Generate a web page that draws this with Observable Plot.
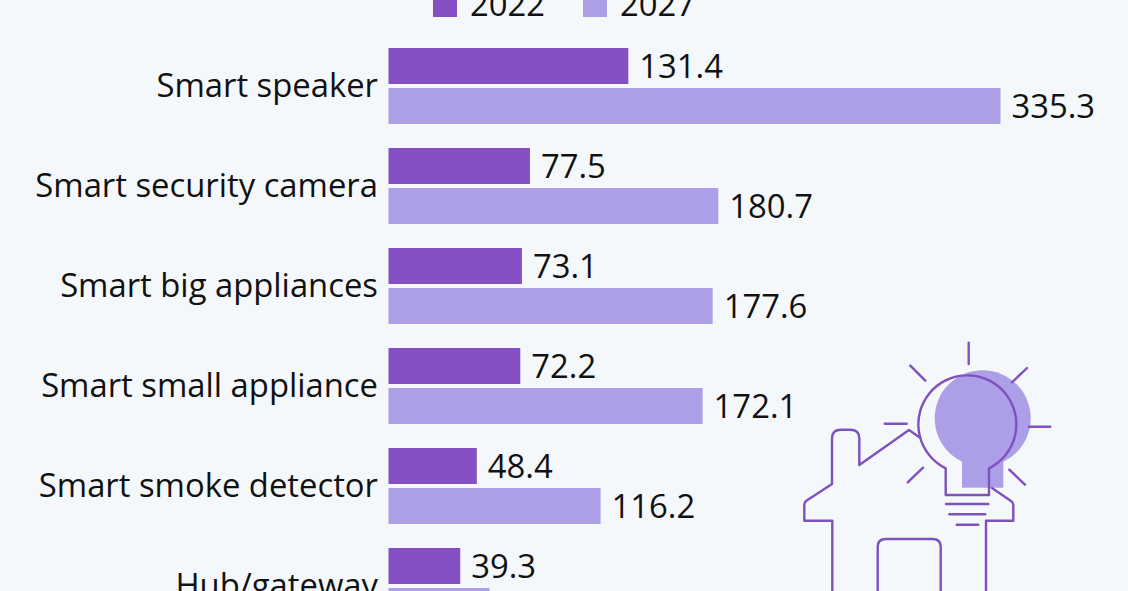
<!DOCTYPE html>
<html>
<head>
<meta charset="utf-8">
<script src="https://cdn.jsdelivr.net/npm/d3@7"></script>
<script src="https://cdn.jsdelivr.net/npm/@observablehq/plot@0.6"></script>
<style>
html,body{margin:0;padding:0;background:#f5f8fb;}
#frame{position:relative;width:1128px;height:591px;overflow:hidden;background:#f5f8fb;font-family:"Open Sans",sans-serif;color:#111;}
#chart{position:absolute;left:0;top:0;}
#chart svg{display:block;background:transparent;}
.sw{position:absolute;top:-7px;width:24px;height:24px;}
.lt{position:absolute;top:-18px;font-size:32.8px;line-height:44px;}
#icon{position:absolute;left:0;top:0;}
</style>
</head>
<body>
<div id="frame">
  <div id="chart"></div>
  <div class="sw" style="left:433px;background:#8450c3"></div>
  <div class="lt" style="left:470px">2022</div>
  <div class="sw" style="left:583px;background:#ad9ee8"></div>
  <div class="lt" style="left:620px">2027</div>
  <svg id="icon" width="1128" height="591" fill="none">
    <circle cx="982.7" cy="418.3" r="48" fill="#ad9ee8"/>
    <rect x="962" y="450" width="41.3" height="37.7" fill="#ad9ee8"/>
    <g stroke="#7d52bd" stroke-width="2.4" stroke-linejoin="round" stroke-linecap="round">
      <path d="M945.7 468.3A49 49 0 1 1 989 468.3V495H945.7Z"/>
      <path d="M946 504H988.3M949.3 514.3H985.3M956.7 524.7H978.3"/>
      <path d="M968.7 342.7V364M910.3 365.7L925.3 380.7M1027 368L1012 382.3M1029 426.7H1050.3M884.7 423.7H906.7M923 467.7L907.7 482.3M1009.3 469.7L1025 484.7"/>
      <path d="M919.3 437.3L909 430L859.3 465V438.3Q859.3 429.7 850 429.7H841Q832 429.7 832 438.3V484L806 501Q804.3 502.5 804.3 505V520.7H832.3V600"/>
      <path d="M992 488L1011 501Q1013.3 502.5 1013.3 505V520.7H986V600"/>
      <path d="M877.7 600V547Q877.7 539 885.7 539H932.7Q940.7 539 940.7 547V600"/>
    </g>
  </svg>
</div>
<script>
const categories = ["Smart speaker","Smart security camera","Smart big appliances","Smart small appliance","Smart smoke detector","Hub/gateway"];
const years = ["2022","2027"];
const values2022 = [131.4,77.5,73.1,72.2,48.4,39.3];
const values2027 = [335.3,180.7,177.6,172.1,116.2,55.3];
const colors = ["#8450c3","#ad9ee8"];

const rows = categories.flatMap((category,i)=>[
  {category,year:years[0],value:values2022[i]},
  {category,year:years[1],value:values2027[i]}
]);

const plot = Plot.plot({
  width:1128,
  height:624,
  marginTop:48,
  marginBottom:0,
  marginLeft:388.5,
  marginRight:127.5,
  style:{background:"transparent",fontFamily:"'Open Sans',sans-serif",color:"#111"},
  x:{domain:[0,335.3],axis:null},
  y:{domain:years,axis:null,paddingInner:0.1,paddingOuter:0,round:false},
  fy:{domain:categories,paddingInner:0.24,paddingOuter:0,round:false,label:null},
  color:{domain:years,range:colors},
  marks:[
    Plot.axisFy({anchor:"left",tickSize:0,tickPadding:11,label:null,fontSize:32.8,dy:-0.5,fill:"#111"}),
    Plot.barX(rows,{x:"value",y:"year",fy:"category",fill:"year"}),
    Plot.text(rows,{x:"value",y:"year",fy:"category",text:d=>d.value.toFixed(1),textAnchor:"start",dx:10.5,dy:0.5,fontSize:32.8,fill:"#111"})
  ]
});
document.getElementById("chart").appendChild(plot);
</script>
</body>
</html>
